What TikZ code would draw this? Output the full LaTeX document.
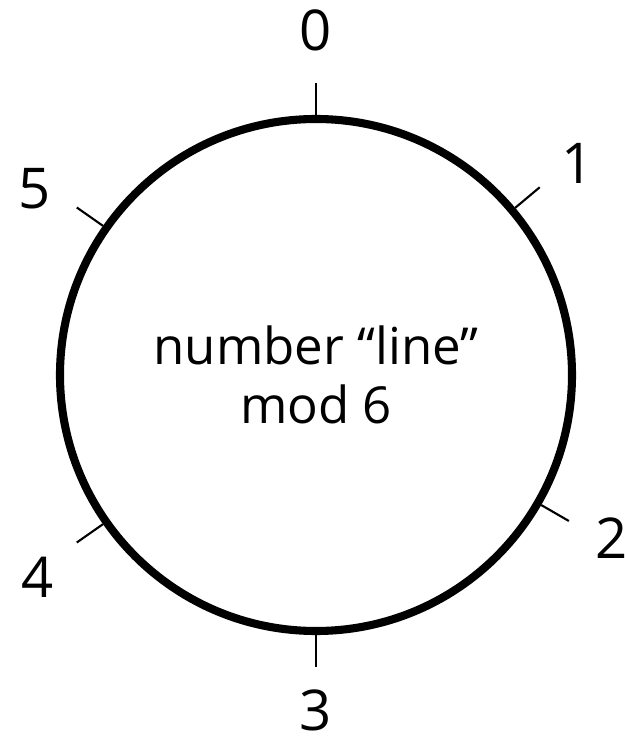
\documentclass[tikz,border=0pt]{standalone}
\usepackage{fontspec}
\setmainfont{Open Sans}
\begin{document}
\begin{tikzpicture}[
        ring/.style={draw, circle, line width=4.6pt, minimum size=10.24cm, inner sep=0pt,
                     font=\fontsize{29}{34}\selectfont, align=center},
        marca/.style={line width=1.2pt},
        num/.style={font=\fontsize{32}{34}\selectfont, inner sep=0pt},
    ]
        \useasboundingbox (-6.32,-7.36) rectangle (6.18,7.5);
        % círculo
        \node[ring] (ring) at (0,0) {number “line”\\ mod 6};
        % marcas
        \coordinate (m0) at (90:5.84);
        \coordinate (m1) at (40:5.84);
        \coordinate (m2) at (-30:5.84);
        \coordinate (m3) at (-90:5.84);
        \coordinate (m4) at (-145:5.84);
        \coordinate (m5) at (145:5.84);
        \draw[marca] (ring.90) -- (m0);
        \draw[marca] (ring.40) -- (m1);
        \draw[marca] (ring.-30) -- (m2);
        \draw[marca] (ring.-90) -- (m3);
        \draw[marca] (ring.-145) -- (m4);
        \draw[marca] (ring.145) -- (m5);
        % rótulos
        \node[num] (n0) at (90:6.9)    {0};
        \node[num] (n1) at (39:6.72)   {1};
        \node[num] (n2) at (-29:6.75)  {2};
        \node[num] (n3) at (-90:6.7)   {3};
        \node[num] (n4) at (-144:6.88) {4};
        \node[num] (n5) at (146.5:6.75) {5};
    \end{tikzpicture}
\end{document}
